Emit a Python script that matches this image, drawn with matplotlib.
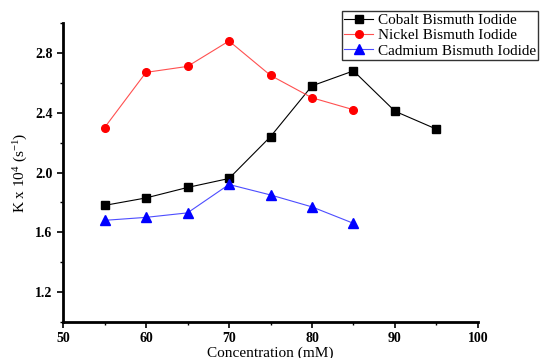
import matplotlib
matplotlib.use('Agg')
import matplotlib.pyplot as plt
from matplotlib.ticker import MultipleLocator

plt.rcParams['font.family'] = 'Liberation Serif'
plt.rcParams['mathtext.fontset'] = 'custom'
plt.rcParams['mathtext.rm'] = 'Liberation Serif'
plt.rcParams['mathtext.it'] = 'Liberation Serif:italic'

conc_co = [55, 60, 65, 70, 75, 80, 85, 90, 95]
k_co = [1.78, 1.83, 1.90, 1.96, 2.24, 2.58, 2.68, 2.41, 2.29]

conc_ni = [55, 60, 65, 70, 75, 80, 85]
k_ni = [2.30, 2.67, 2.71, 2.88, 2.65, 2.50, 2.42]

conc_cd = [55, 60, 65, 70, 75, 80, 85]
k_cd = [1.68, 1.70, 1.73, 1.92, 1.85, 1.77, 1.66]

fig = plt.figure(figsize=(5.41, 3.58), dpi=100)
ax = fig.add_axes([0.1165, 0.1006, 0.767, 0.835])

ax.plot(conc_co, k_co, color='black', lw=0.8, marker='s', ms=5.5, label='Cobalt Bismuth Iodide')
ax.plot(conc_ni, k_ni, color='#ff5050', lw=0.8, marker='o', ms=5.5, mfc='red', mec='red', label='Nickel Bismuth Iodide')
ax.plot(conc_cd, k_cd, color='#4d4dff', lw=0.8, marker='^', ms=6.5, mfc='blue', mec='blue', label='Cadmium Bismuth Iodide')

ax.set_xlim(50, 100)
ax.set_ylim(1.0, 3.0)
ax.xaxis.set_major_locator(MultipleLocator(10))
ax.xaxis.set_minor_locator(MultipleLocator(5))
ax.yaxis.set_minor_locator(MultipleLocator(0.2))
ax.set_yticks([1.2, 1.6, 2.0, 2.4, 2.8])

for s in ['top', 'right']:
    ax.spines[s].set_visible(False)
for s in ['left', 'bottom']:
    ax.spines[s].set_linewidth(2)

ax.tick_params(which='major', direction='out', length=4, width=1.2, labelsize=10)
ax.tick_params(which='minor', direction='out', length=2.5, width=1)
for lab in ax.get_xticklabels() + ax.get_yticklabels():
    lab.set_fontweight('bold')

ax.set_xlabel('Concentration (mM)', fontsize=11, labelpad=1)
ax.set_ylabel('K x 10$^{4}$ (s$^{-1}$)', fontsize=11)

leg = ax.legend(loc='upper left', bbox_to_anchor=(0.672, 1.04), fontsize=11, frameon=True,
                fancybox=False, edgecolor='black', borderpad=0.15, labelspacing=0.1,
                handlelength=1.9, handletextpad=0.3, borderaxespad=0)
leg.get_frame().set_linewidth(1)

fig.savefig('out.png', dpi=100)
